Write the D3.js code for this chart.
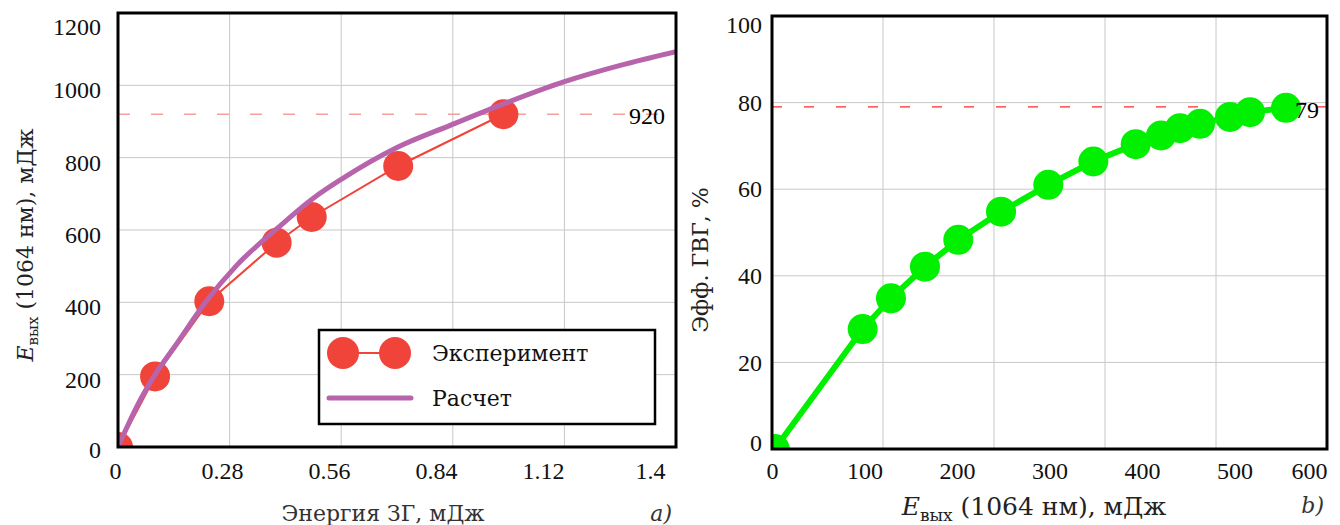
<!DOCTYPE html>
<html>
<head>
<meta charset="utf-8">
<script src="https://cdn.jsdelivr.net/npm/d3@7"></script>
<style>
  body { margin: 0; background: #fff; }
  svg text { font-family: "DejaVu Serif", "Liberation Serif", serif; }
  svg text.num { font-family: "Liberation Serif", "DejaVu Serif", serif; }
</style>
</head>
<body>
<div id="chart"></div>
<script>
// ---- data, left panel (a) ----
const shgEnergy = [0, 0.093, 0.229, 0.398, 0.486, 0.703, 0.967];
const expOutput = [0, 195, 403, 565, 636, 777, 920];
const calcEnergy = [0, 0.05, 0.093, 0.15, 0.218, 0.3, 0.4, 0.49, 0.56, 0.7, 0.835, 0.966, 1.12, 1.26, 1.4];
const calcOutput = [0, 118, 200, 290, 398, 505, 605, 688, 740, 828, 890, 948, 1010, 1055, 1093];
const leftXTicks = [0, 0.28, 0.56, 0.84, 1.12, 1.4];
const leftYTicks = [0, 200, 400, 600, 800, 1000, 1200];
const leftRef = 920;

// ---- data, right panel (b) ----
const outEnergy = [3, 98, 128.6, 165.4, 201.4, 247.6, 298.7, 347.4, 393.2, 420.5, 441.1, 462.7, 495.1, 516.8, 555.7];
const effShg = [0, 27.7, 34.8, 42.1, 48.3, 54.8, 61.0, 66.4, 70.4, 72.4, 74.1, 75.1, 76.7, 77.8, 78.8];
const rightXTicks = [0, 100, 200, 300, 400, 500, 600];
const rightXGrid = [120, 240, 360, 480];
const rightYTicks = [0, 20, 40, 60, 80, 100];
const rightRef = 79;

const W = 1340, H = 525;
const fs = 22;    // words
const fsNum = 24; // numbers

const svg = d3.select("#chart").append("svg")
    .attr("width", W)
    .attr("height", H);

const defs = svg.append("defs");

function clip(id, x0, x1, y0, y1) {
    defs.append("clipPath").attr("id", id)
        .append("rect")
        .attr("x", x0).attr("y", y0)
        .attr("width", x1 - x0).attr("height", y1 - y0);
}

function addYTitle(x, y, pre, sub, post) {
    const t = svg.append("text")
        .attr("transform", "translate(" + x + "," + y + ") rotate(-90)")
        .attr("text-anchor", "middle")
        .attr("font-size", fs)
        .attr("fill", "#222");
    if (pre) t.append("tspan").attr("font-style", "italic").text(pre);
    if (sub) t.append("tspan").attr("font-size", 15).attr("dy", 5).text(sub);
    t.append("tspan").attr("dy", sub ? -5 : 0).text(post);
    return t;
}

function styleTicks(axis) {
    axis.select(".domain").remove();
    return axis.selectAll("text")
        .attr("class", "num")
        .attr("font-size", fsNum)
        .attr("font-family", null)
        .attr("fill", "#111");
}

// ================= left panel =================
const L = { x0: 118, x1: 676, y0: 13, y1: 447 };
clip("clipL", L.x0, L.x1, L.y0, L.y1);

const xL = d3.scaleLinear().domain([0, 1.4]).range([L.x0, L.x1]);
// tick labels in the source sit a bit left of the grid
const xLLabel = d3.scaleLinear().domain([0, 1.4]).range([115, 650]);
const yL = d3.scaleLinear().domain([0, 1200]).range([L.y1, L.y0]);

const gL = svg.append("g");

// grid
gL.append("g")
    .selectAll("line")
    .data(leftXTicks.slice(1, -1))
    .enter().append("line")
        .attr("x1", d => xL(d)).attr("x2", d => xL(d))
        .attr("y1", L.y0).attr("y2", L.y1)
        .attr("stroke", "#c8c8c8").attr("stroke-width", 1);
gL.append("g")
    .selectAll("line")
    .data(leftYTicks.slice(1, -1))
    .enter().append("line")
        .attr("x1", L.x0).attr("x2", L.x1)
        .attr("y1", d => yL(d)).attr("y2", d => yL(d))
        .attr("stroke", "#c8c8c8").attr("stroke-width", 1);

// reference line 920
gL.append("line")
    .attr("x1", L.x0).attr("x2", L.x1)
    .attr("y1", yL(leftRef)).attr("y2", yL(leftRef))
    .attr("stroke", "#f4a09b").attr("stroke-width", 1.5)
    .attr("stroke-dasharray", "12,21");

const plotL = gL.append("g").attr("clip-path", "url(#clipL)");

const expData = shgEnergy.map((d, i) => ({ x: d, y: expOutput[i] }));
const calcData = calcEnergy.map((d, i) => ({ x: d, y: calcOutput[i] }));

plotL.append("path")
    .datum(expData)
    .attr("fill", "none")
    .attr("stroke", "#f0443a")
    .attr("stroke-width", 2)
    .attr("d", d3.line().x(d => xL(d.x)).y(d => yL(d.y)));

plotL.selectAll("circle")
    .data(expData)
    .enter().append("circle")
        .attr("cx", d => xL(d.x))
        .attr("cy", d => yL(d.y))
        .attr("r", 15)
        .attr("fill", "#f0443a");

plotL.append("path")
    .datum(calcData)
    .attr("fill", "none")
    .attr("stroke", "#b864ad")
    .attr("stroke-width", 5)
    .attr("stroke-linecap", "round")
    .attr("d", d3.line().curve(d3.curveMonotoneX).x(d => xL(d.x)).y(d => yL(d.y)));

gL.append("text")
    .attr("class", "num")
    .attr("x", 647).attr("y", yL(leftRef) + 10)
    .attr("text-anchor", "middle")
    .attr("font-size", fsNum)
    .text(leftRef);

// frame
gL.append("rect")
    .attr("x", L.x0).attr("y", L.y0)
    .attr("width", L.x1 - L.x0).attr("height", L.y1 - L.y0)
    .attr("fill", "none").attr("stroke", "#000").attr("stroke-width", 3);

// axes (labels only)
const axLX = gL.append("g")
    .attr("transform", "translate(0," + L.y1 + ")")
    .call(d3.axisBottom(xLLabel).tickValues(leftXTicks).tickSize(0).tickFormat(d => d));
styleTicks(axLX).attr("y", 32).attr("dy", 0);

const axLY = gL.append("g")
    .attr("transform", "translate(" + L.x0 + ",0)")
    .call(d3.axisLeft(yL).tickValues(leftYTicks).tickSize(0).tickPadding(17).tickFormat(d => d));
styleTicks(axLY)
    .attr("dy", d => d === 1200 ? "0.9em" : (d === 0 ? "0.45em" : "0.52em"));

// titles
gL.append("text")
    .attr("x", 383).attr("y", 521)
    .attr("text-anchor", "middle")
    .attr("font-size", fs)
    .attr("fill", "#333")
    .text("Энергия ЗГ, мДж");
gL.append("text")
    .attr("x", 672).attr("y", 521)
    .attr("text-anchor", "end")
    .attr("font-size", fs)
    .attr("font-style", "italic")
    .attr("fill", "#333")
    .text("a)");
addYTitle(33, 245, "E", "вых", " (1064 нм), мДж");

// legend
const leg = gL.append("g");
leg.append("rect")
    .attr("x", 319).attr("y", 330)
    .attr("width", 336).attr("height", 94)
    .attr("fill", "#fff").attr("stroke", "#000").attr("stroke-width", 2.5);
leg.append("line")
    .attr("x1", 343).attr("x2", 395).attr("y1", 353).attr("y2", 353)
    .attr("stroke", "#f0443a").attr("stroke-width", 2);
leg.selectAll("circle")
    .data([343, 395])
    .enter().append("circle")
        .attr("cx", d => d).attr("cy", 353).attr("r", 16)
        .attr("fill", "#f0443a");
leg.append("line")
    .attr("x1", 329).attr("x2", 411).attr("y1", 398).attr("y2", 398)
    .attr("stroke", "#b864ad").attr("stroke-width", 5)
    .attr("stroke-linecap", "round");
leg.selectAll("text.lab")
    .data(["Эксперимент", "Расчет"])
    .enter().append("text")
        .attr("class", "lab")
        .attr("x", 432)
        .attr("y", (d, i) => 353 + i * 45)
        .attr("dy", "0.35em")
        .attr("font-size", fs)
        .attr("fill", "#111")
        .text(d => d);

// ================= right panel =================
const R = { x0: 772, x1: 1327, y0: 16, y1: 449 };
clip("clipR", R.x0, R.x1, R.y0, R.y1);

const xR = d3.scaleLinear().domain([0, 600]).range([R.x0, R.x1]);
const yR = d3.scaleLinear().domain([0, 100]).range([R.y1, R.y0]);

const gR = svg.append("g");

gR.append("g")
    .selectAll("line")
    .data(rightXGrid)
    .enter().append("line")
        .attr("x1", d => xR(d)).attr("x2", d => xR(d))
        .attr("y1", R.y0).attr("y2", R.y1)
        .attr("stroke", "#c8c8c8").attr("stroke-width", 1);
gR.append("g")
    .selectAll("line")
    .data(rightYTicks.slice(1, -1))
    .enter().append("line")
        .attr("x1", R.x0).attr("x2", R.x1)
        .attr("y1", d => yR(d)).attr("y2", d => yR(d))
        .attr("stroke", "#c8c8c8").attr("stroke-width", 1);

gR.append("line")
    .attr("x1", R.x0).attr("x2", R.x1)
    .attr("y1", yR(rightRef)).attr("y2", yR(rightRef))
    .attr("stroke", "#ff2a2a").attr("stroke-width", 1.2)
    .attr("stroke-dasharray", "10,22");

const plotR = gR.append("g").attr("clip-path", "url(#clipR)");
const effData = outEnergy.map((d, i) => ({ x: d, y: effShg[i] }));

plotR.append("path")
    .datum(effData)
    .attr("fill", "none")
    .attr("stroke", "#00f000")
    .attr("stroke-width", 6)
    .attr("d", d3.line().x(d => xR(d.x)).y(d => yR(d.y)));

plotR.selectAll("circle")
    .data(effData)
    .enter().append("circle")
        .attr("cx", d => xR(d.x))
        .attr("cy", d => yR(d.y))
        .attr("r", 15)
        .attr("fill", "#00f000");

gR.append("text")
    .attr("class", "num")
    .attr("x", 1307).attr("y", yR(rightRef) + 11)
    .attr("text-anchor", "middle")
    .attr("font-size", fsNum)
    .text(rightRef);

gR.append("rect")
    .attr("x", R.x0).attr("y", R.y0)
    .attr("width", R.x1 - R.x0).attr("height", R.y1 - R.y0)
    .attr("fill", "none").attr("stroke", "#000").attr("stroke-width", 3);

const axRX = gR.append("g")
    .attr("transform", "translate(0," + R.y1 + ")")
    .call(d3.axisBottom(xR).tickValues(rightXTicks).tickSize(0).tickFormat(d => d));
styleTicks(axRX).attr("y", 30).attr("dy", 0);
// last label is pulled inside the frame
axRX.selectAll(".tick").filter(d => d === 600).select("text")
    .attr("text-anchor", "end").attr("x", 0);

const axRY = gR.append("g")
    .attr("transform", "translate(" + R.x0 + ",0)")
    .call(d3.axisLeft(yR).tickValues(rightYTicks).tickSize(0).tickPadding(10).tickFormat(d => d));
styleTicks(axRY)
    .attr("dy", d => d === 100 ? "0.7em" : (d === 0 ? "0.05em" : "0.32em"));

const rxTitle = gR.append("text")
    .attr("x", 1034).attr("y", 515)
    .attr("text-anchor", "middle")
    .attr("font-size", 25)
    .attr("fill", "#222");
rxTitle.append("tspan").attr("font-style", "italic").text("E");
rxTitle.append("tspan").attr("font-size", 17).attr("dy", 6).text("вых");
rxTitle.append("tspan").attr("dy", -6).text(" (1064 нм), мДж");

gR.append("text")
    .attr("x", 1324).attr("y", 513)
    .attr("text-anchor", "end")
    .attr("font-size", fs)
    .attr("font-style", "italic")
    .attr("fill", "#333")
    .text("b)");

addYTitle(708, 260, null, null, "Эфф. ГВГ, %");
</script>
</body>
</html>
